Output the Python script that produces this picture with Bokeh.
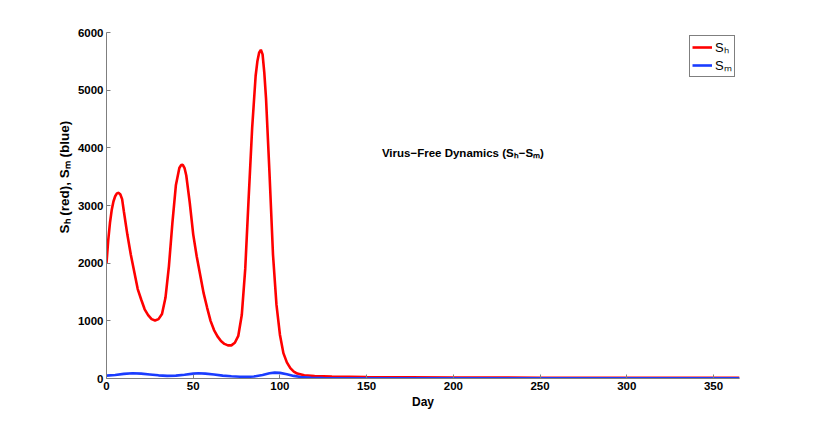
from bokeh.plotting import figure
from bokeh.models import Range1d, Label, Legend, LegendItem, FixedTicker, Title
from bokeh.embed import file_html
from bokeh.resources import INLINE

# Red series: S_h
sh_days = [0, 1, 2, 3, 4, 5, 6, 7, 8, 9, 10, 12, 14, 16, 18, 20, 22, 24, 26, 28,
           30, 32, 34, 36, 38, 40, 42, 43, 44, 45, 46, 48, 50, 52, 54, 56, 58, 60,
           62, 64, 66, 68, 70, 72, 74, 76, 78, 80, 82, 84, 86, 87, 88, 89, 90, 91,
           92, 94, 96, 98, 100, 102, 104, 106, 108, 110, 114, 120, 130, 150, 200,
           250, 300, 365]
sh_vals = [2000, 2400, 2700, 2920, 3070, 3160, 3210, 3220, 3190, 3110, 2900, 2500,
           2150, 1850, 1550, 1370, 1200, 1100, 1030, 1005, 1030, 1120, 1400, 1950,
           2700, 3350, 3650, 3700, 3705, 3650, 3520, 3050, 2500, 2120, 1800, 1480,
           1230, 1000, 840, 730, 650, 600, 575, 575, 620, 740, 1100, 1900, 3150,
           4350, 5250, 5500, 5650, 5700, 5620, 5300, 4850, 3550, 2150, 1280, 760,
           440, 280, 180, 120, 85, 55, 42, 35, 25, 18, 14, 12, 10]

# Blue series: S_m
sm_days = [0, 5, 10, 15, 20, 25, 30, 35, 40, 45, 50, 53, 57, 62, 67, 72, 77, 81,
           85, 90, 94, 97, 100, 104, 108, 112, 118, 125, 150, 200, 365]
sm_vals = [50, 62, 80, 90, 85, 70, 55, 46, 50, 65, 85, 90, 85, 68, 50, 38, 30, 28,
           35, 60, 90, 102, 98, 75, 45, 25, 13, 8, 5, 4, 3]

x_ticks = [0, 50, 100, 150, 200, 250, 300, 350]
y_ticks = [0, 1000, 2000, 3000, 4000, 5000, 6000]

FONT = "Liberation Sans"

p = figure(width=800, height=415, output_backend="svg", toolbar_location=None,
           x_range=Range1d(0, 365), y_range=Range1d(0, 6000),
           min_border_left=106, min_border_right=61, min_border_top=32,
           min_border_bottom=37)
p.outline_line_color = None
p.xgrid.visible = False
p.ygrid.visible = False

r_sh = p.line(sh_days, sh_vals, line_color="#ff0000", line_width=2.6)
r_sm = p.line(sm_days, sm_vals, line_color="#1a3cff", line_width=2.6)

for ax in (p.xaxis[0], p.yaxis[0]):
    ax.axis_line_color = "#7f7f7f"
    ax.major_tick_line_color = "#7f7f7f"
    ax.major_tick_in = 4
    ax.major_tick_out = 0
    ax.minor_tick_line_color = None
    ax.major_label_text_font = FONT
    ax.major_label_text_font_style = "bold"
    ax.major_label_text_font_size = "11.5px"
    ax.major_label_text_color = "black"

p.xaxis.ticker = FixedTicker(ticks=x_ticks)
p.yaxis.ticker = FixedTicker(ticks=y_ticks)
p.xaxis.major_label_standoff = 3
p.yaxis.major_label_standoff = 3
p.xaxis.axis_label = "Day"
p.xaxis.axis_label_text_font = FONT
p.xaxis.axis_label_text_font_style = "bold"
p.xaxis.axis_label_text_font_size = "12px"
p.xaxis.axis_label_text_color = "black"
p.xaxis.axis_label_standoff = 2

ytitle = Title(text="Sₕ (red), Sₘ (blue)", align="left", offset=145,
               text_font=FONT, text_font_style="bold", text_font_size="13.5px",
               text_color="black", standoff=5)
p.add_layout(ytitle, "left")

ann = Label(x=158.8, y=3919, text="Virus−Free Dynamics (Sₕ−Sₘ)",
            text_align="left", text_baseline="middle", text_font=FONT,
            text_font_style="bold", text_font_size="11.5px", text_color="black")
p.add_layout(ann)

legend = Legend(items=[LegendItem(label="Sₕ", renderers=[r_sh]),
                       LegendItem(label="Sₘ", renderers=[r_sm])],
                location=(583, 301), orientation="vertical")
legend.border_line_color = "black"
legend.border_line_width = 1
legend.background_fill_color = "white"
legend.label_text_font = FONT
legend.label_text_font_size = "13px"
legend.label_text_color = "black"
legend.padding = 2
legend.spacing = 0
legend.margin = 0
legend.glyph_width = 20
legend.glyph_height = 16
legend.label_height = 16
legend.label_width = 16
legend.label_standoff = 3
p.add_layout(legend, "center")

open("out.html", "w").write(file_html(p, INLINE))
